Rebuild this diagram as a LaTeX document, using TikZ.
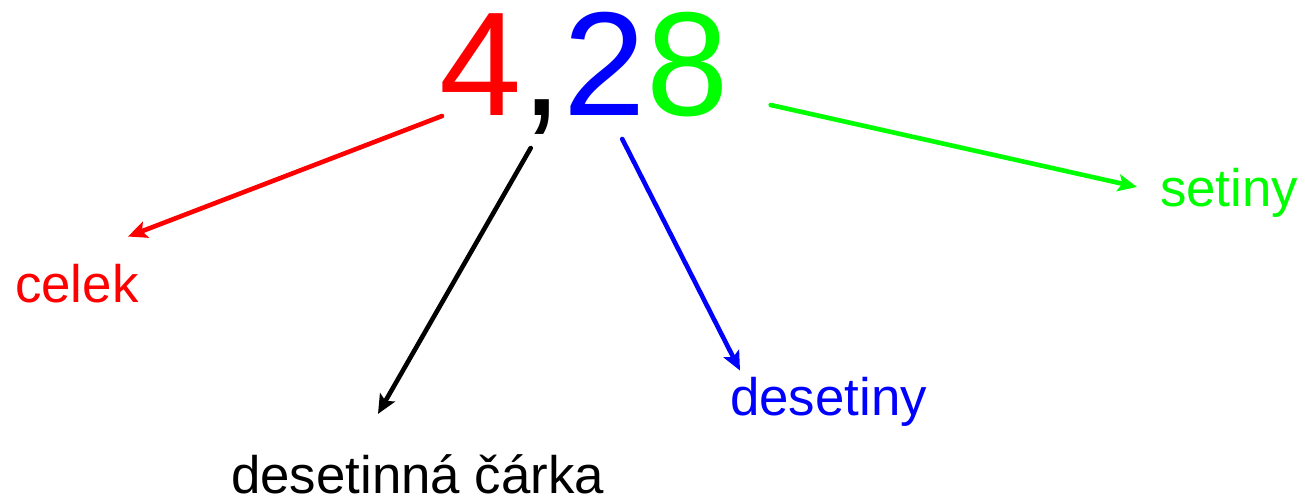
\documentclass[tikz,border=0pt]{standalone}
\usepackage{fontspec}
\setmainfont{Liberation Sans}
\usetikzlibrary{positioning,arrows.meta}
\definecolor{cred}{RGB}{255,0,0}
\definecolor{cblue}{RGB}{0,0,255}
\definecolor{cgreen}{RGB}{0,255,0}
\tikzstyle{num}=[inner sep=0pt,anchor=base west,font=\fontsize{148}{150}\selectfont]
\tikzstyle{lbl}=[inner sep=0pt,anchor=base west,font=\fontsize{52.8}{56}\selectfont]
\tikzstyle{arr}=[line width=4.6pt,line cap=round,-{Stealth[length=19pt,width=17pt,inset=4pt]}]

\begin{document}
\begin{tikzpicture}[x=1pt,y=-1pt]
  \useasboundingbox (0,0) rectangle (1305,500);

  \node[num,text=cred] (four) at (439,116) {4};
  \node[num] (comma) at (four.base east) {,};
  \node[num,text=cblue] (two) at (comma.base east) {2};
  \node[num,text=cgreen] (eight) at (two.base east) {8};

  \node[lbl,text=cred] (celek) at (15,302) {celek};
  \node[lbl] (carka) at (231,493) {desetinná čárka};
  \node[lbl,text=cblue] (desetiny) at (730,415) {desetiny};
  \node[lbl,text=cgreen] (setiny) at (1160,206) {setiny};

  \draw[arr,cred] ([xshift=3pt]four.base west) -- ([xshift=113pt,yshift=27pt]celek.north west);
  \draw[arr] ([xshift=9pt,yshift=-32pt]comma.base west) -- ([xshift=147pt,yshift=40pt]carka.north west);
  \draw[arr,cblue] ([xshift=59pt,yshift=-23pt]two.base west) -- ([xshift=10pt,yshift=6pt]desetiny.north west);
  \draw[arr,cgreen] ([xshift=42pt,yshift=11pt]eight.base east) -- ([xshift=-23pt,yshift=19pt]setiny.base west);
\end{tikzpicture}
\end{document}
